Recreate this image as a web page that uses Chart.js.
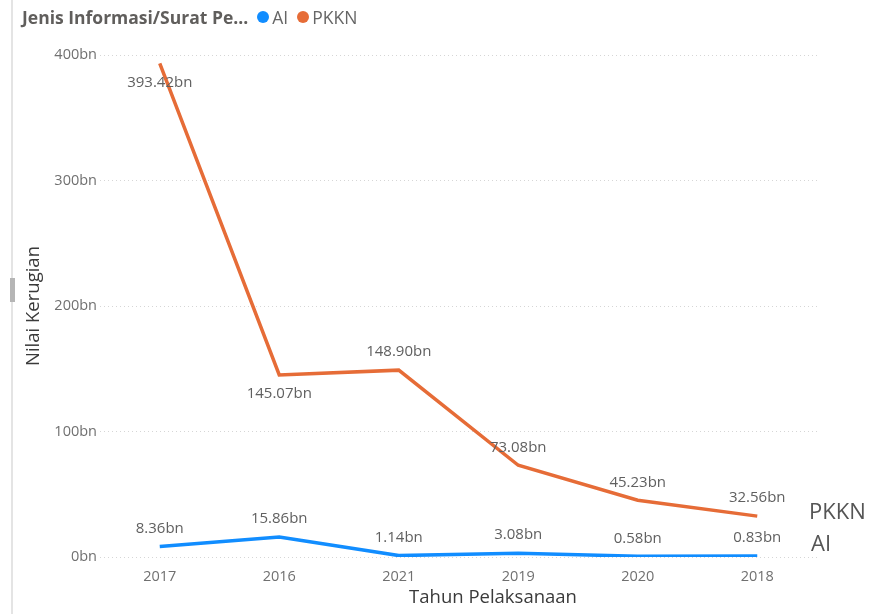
<!DOCTYPE html>
<html>
<head>
<meta charset="utf-8">
<script src="https://cdn.jsdelivr.net/npm/chart.js@4.4.1/dist/chart.umd.min.js"></script>
<style>
  html, body { margin: 0; padding: 0; background: #fff; }
  #wrap { position: relative; width: 870px; height: 614px; overflow: hidden; }
  #edge { position: absolute; left: 11px; top: 0; width: 2px; height: 614px; background: #e4e4e4; }
  #thumb { position: absolute; left: 10px; top: 278px; width: 5px; height: 24px; background: #b5b5b5; }
  #legend {
    position: absolute; left: 22px; top: 5px; font-family: "Open Sans", sans-serif;
    font-size: 17.5px; color: #666; white-space: nowrap; display: flex; align-items: center;
  }
  #legend b { font-weight: 700; color: #605e5c; margin-right: 9px; }
  #legend .dot { width: 12px; height: 12px; border-radius: 50%; display: inline-block; margin-right: 3px; }
  #legend .item { display: inline-flex; align-items: center; margin-right: 9px; }
  canvas { position: absolute; left: 0; top: 0; }
</style>
</head>
<body>
<div id="wrap">
  <canvas id="lineChart" width="870" height="614"></canvas>
  <div id="edge"></div>
  <div id="thumb"></div>
  <div id="legend">
    <b>Jenis Informasi/Surat Pe...</b>
    <span class="item"><span class="dot" style="background:#118dff"></span>AI</span>
    <span class="item"><span class="dot" style="background:#e66c37"></span>PKKN</span>
  </div>
</div>
<script>
// Tahun pelaksanaan (urutan sesuai sumbu X)
const tahun = ['2017', '2016', '2021', '2019', '2020', '2018'];
// Nilai kerugian dalam miliar (bn)
const nilaiAI = [8.36, 15.86, 1.14, 3.08, 0.58, 0.83];
const nilaiPKKN = [393.42, 145.07, 148.90, 73.08, 45.23, 32.56];
const yTicks = [0, 100, 200, 300, 400];

const FONT = '"Open Sans", sans-serif';

// Label nilai di setiap titik + label seri di ujung kanan
const labelPlugin = {
    id: 'labelPlugin',
    afterDatasetsDraw(chart) {
        const ctx = chart.ctx;
        const area = chart.chartArea;
        ctx.save();
        ctx.font = '15px ' + FONT;
        ctx.fillStyle = '#606060';
        ctx.textAlign = 'center';
        ctx.textBaseline = 'middle';
        chart.data.datasets.forEach((ds, i) => {
            const meta = chart.getDatasetMeta(i);
            meta.data.forEach((pt, j) => {
                const below = ds.labelPos && ds.labelPos[j] === 'below';
                const y = below ? pt.y + 19 : pt.y - 18;
                ctx.fillText(ds.data[j].toFixed(2) + 'bn', pt.x, y);
            });
        });

        // label nama seri di kanan
        ctx.font = '22px ' + FONT;
        ctx.fillStyle = '#555';
        ctx.textAlign = 'left';
        const pk = chart.getDatasetMeta(1).data;
        const ai = chart.getDatasetMeta(0).data;
        const pkY = pk[pk.length - 1].y - 3;
        const aiY = Math.max(pkY + 32, Math.min(ai[ai.length - 1].y, pkY + 32));
        ctx.fillText('PKKN', area.right - 8, pkY);
        ctx.fillText('AI', area.right - 6, aiY);

        // judul sumbu
        ctx.font = '18.5px ' + FONT;
        ctx.fillStyle = '#3a3a3a';
        ctx.textAlign = 'center';
        ctx.fillText('Tahun Pelaksanaan', 493, 598);
        ctx.translate(34, (area.top + area.bottom) / 2);
        ctx.rotate(-Math.PI / 2);
        ctx.fillText('Nilai Kerugian', 0, 0);
        ctx.restore();
    }
};

function initLineChart() {
    const canvas = document.getElementById('lineChart');
    if (!canvas) {
        console.error('Canvas tidak ditemukan');
        return;
    }
    window.lineChart = new Chart(canvas, {
        type: 'line',
        data: {
            labels: tahun,
            datasets: [{
                label: 'AI',
                data: nilaiAI,
                borderColor: '#118dff',
                backgroundColor: '#118dff',
                borderWidth: 3.5,
                pointRadius: 0,
                tension: 0,
                labelPos: ['above', 'above', 'above', 'above', 'above', 'above']
            }, {
                label: 'PKKN',
                data: nilaiPKKN,
                borderColor: '#e66c37',
                backgroundColor: '#e66c37',
                borderWidth: 3.5,
                pointRadius: 0,
                tension: 0,
                labelPos: ['below', 'below', 'above', 'above', 'above', 'above']
            }]
        },
        options: {
            responsive: false,
            animation: false,
            layout: { padding: { top: 55, right: 53, bottom: 0, left: 0 } },
            plugins: {
                legend: { display: false },
                tooltip: { enabled: false }
            },
            scales: {
                x: {
                    offset: true,
                    grid: { display: false },
                    border: { display: false },
                    ticks: { color: '#707070', font: { family: FONT, size: 14.5 }, padding: 3 },
                    afterFit(scale) { scale.height = 57; }
                },
                y: {
                    min: 0,
                    max: 400,
                    afterBuildTicks(scale) { scale.ticks = yTicks.map(v => ({ value: v })); },
                    grid: {
                        color: '#d6d6d6',
                        lineWidth: 1,
                        drawTicks: false
                    },
                    border: { display: false, dash: [1, 3] },
                    ticks: {
                        color: '#707070',
                        font: { family: FONT, size: 14.5 },
                        padding: 3,
                        callback: v => v + 'bn'
                    },
                    afterFit(scale) { scale.width = 100; }
                }
            }
        },
        plugins: [labelPlugin]
    });
}

initLineChart();
</script>
</body>
</html>
